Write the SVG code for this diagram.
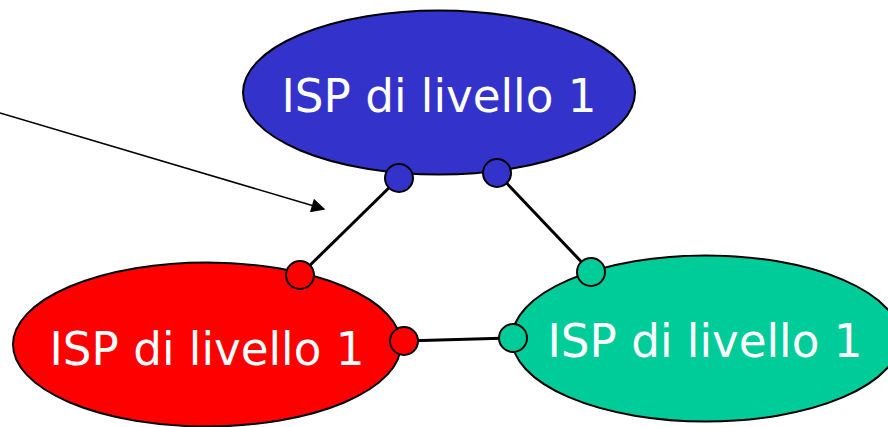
<svg xmlns="http://www.w3.org/2000/svg" width="888" height="427" viewBox="0 0 888 427">
<style>
.isp{stroke:#000;stroke-width:2}
.port{stroke:#000;stroke-width:2}
.lbl{font-family:"DejaVu Sans","Liberation Sans",sans-serif;font-size:46px;fill:#fff;text-anchor:middle}
.link{stroke:#000;stroke-width:3;fill:none}
.ptr{stroke:#000;stroke-width:1.5;fill:none}
</style>
<defs>
<marker id="ah" viewBox="0 0 10 10" refX="9" refY="5" markerWidth="17" markerHeight="14" markerUnits="userSpaceOnUse" orient="auto">
<path d="M0,0 L10,5 L0,10 z" fill="#000"/>
</marker>
</defs>
<g id="connectors">
<line class="link" x1="399" y1="178" x2="300" y2="275"/>
<line class="link" x1="497" y1="173" x2="591" y2="272"/>
<line class="link" x1="404" y1="341" x2="513" y2="338"/>
<line class="ptr" x1="0" y1="113" x2="324" y2="209" marker-end="url(#ah)"/>
</g>
<g id="isp-top">
<ellipse class="isp" cx="439" cy="92.5" rx="196" ry="82" fill="#3333CC"/>
<text class="lbl" x="439" y="112" textLength="315" lengthAdjust="spacingAndGlyphs">ISP di livello 1</text>
<circle class="port" cx="399" cy="178" r="14" fill="#3333CC"/>
<circle class="port" cx="497" cy="173" r="14" fill="#3333CC"/>
</g>
<g id="isp-left">
<ellipse class="isp" cx="207" cy="344.5" rx="194" ry="82" fill="#FF0000"/>
<text class="lbl" x="207" y="365" textLength="315" lengthAdjust="spacingAndGlyphs">ISP di livello 1</text>
<circle class="port" cx="300" cy="275" r="14" fill="#FF0000"/>
<circle class="port" cx="404" cy="341" r="14" fill="#FF0000"/>
</g>
<g id="isp-right">
<ellipse class="isp" cx="706" cy="338.5" rx="194" ry="83" fill="#00CC99"/>
<text class="lbl" x="705" y="357" textLength="315" lengthAdjust="spacingAndGlyphs">ISP di livello 1</text>
<circle class="port" cx="591" cy="272" r="14" fill="#00CC99"/>
<circle class="port" cx="513" cy="338" r="14" fill="#00CC99"/>
</g>
</svg>
